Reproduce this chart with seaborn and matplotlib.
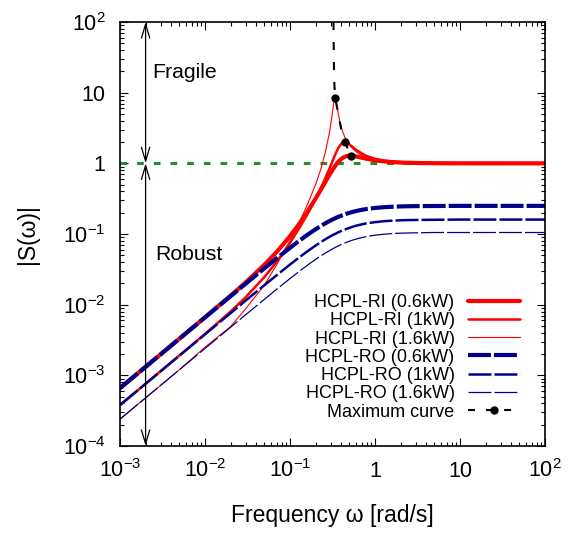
import numpy as np
import matplotlib
matplotlib.use("Agg")
import matplotlib.pyplot as plt
from matplotlib.lines import Line2D
from matplotlib.ticker import LogLocator, NullFormatter, FixedLocator, FixedFormatter
import seaborn as sns

# Frequency grid [rad/s] shared by all sensitivity curves
omega = [1e-3, 2e-3, 5e-3, 0.01, 0.02, 0.03, 0.05, 0.07, 0.1, 0.13, 0.16, 0.2,
         0.23, 0.26, 0.29, 0.31, 0.32, 0.325, 0.33, 0.335, 0.339, 0.345, 0.35,
         0.36, 0.37, 0.385, 0.4, 0.42, 0.444, 0.47, 0.5, 0.518, 0.55, 0.6, 0.7,
         0.8, 1.0, 1.3, 1.7, 2.2, 3.0, 5.0, 10.0, 100.0]

# |S(w)| for the HCPL-RI controllers
ri_06kw = [0.00066, 0.00132, 0.0033, 0.00663, 0.0134, 0.0206, 0.0367, 0.056, 0.0932,
           0.142, 0.206, 0.317, 0.421, 0.544, 0.682, 0.778, 0.826, 0.849, 0.873,
           0.896, 0.915, 0.942, 0.964, 1.01, 1.05, 1.1, 1.15, 1.2, 1.24, 1.27, 1.28,
           1.28, 1.273, 1.252, 1.202, 1.16, 1.105, 1.062, 1.036, 1.022, 1.012, 1.004,
           1.001, 1.0]
ri_1kw = [0.00038, 0.00076, 0.00191, 0.00385, 0.00799, 0.0127, 0.0246, 0.0408, 0.0751,
          0.124, 0.19, 0.315, 0.444, 0.614, 0.836, 1.01, 1.11, 1.16, 1.22, 1.27, 1.31,
          1.38, 1.43, 1.54, 1.64, 1.77, 1.88, 1.96, 1.98, 1.94, 1.85, 1.79, 1.69, 1.55,
          1.38, 1.27, 1.16, 1.09, 1.05, 1.03, 1.02, 1.01, 1.0, 1.0]
ri_16kw = [0.00024, 0.00048, 0.0012, 0.0025, 0.0049, 0.0087, 0.019, 0.037, 0.08,
           0.15, 0.26, 0.5, 0.82, 1.43, 2.64, 4.45, 5.97, 6.88, 7.74, 8.34, 8.48, 8.11,
           7.48, 6.1, 5.02, 3.95, 3.29, 2.73, 2.32, 2.04, 1.82, 1.72, 1.6, 1.46, 1.3,
           1.21, 1.13, 1.07, 1.04, 1.02, 1.01, 1.0, 1.0, 1.0]

# |S(w)| for the HCPL-RO controllers
ro_06kw = [0.00066, 0.00132, 0.0033, 0.0066, 0.01318, 0.01974, 0.0327, 0.0454, 0.0638,
           0.0812, 0.0973, 0.1167, 0.1298, 0.1415, 0.152, 0.1583, 0.1613, 0.1628,
           0.1642, 0.1656, 0.1667, 0.1684, 0.1697, 0.1722, 0.1747, 0.1782, 0.1815,
           0.1857, 0.1902, 0.1947, 0.1993, 0.2018, 0.2059, 0.2114, 0.2199, 0.226,
           0.2338, 0.24, 0.244, 0.2464, 0.248, 0.249, 0.25, 0.25]
ro_1kw = [0.00038, 0.00076, 0.0019, 0.0038, 0.00759, 0.0114, 0.0189, 0.0262, 0.037,
          0.0472, 0.0568, 0.0686, 0.0767, 0.0841, 0.0908, 0.0949, 0.0968, 0.0978,
          0.0987, 0.0996, 0.1, 0.101, 0.102, 0.104, 0.106, 0.108, 0.11, 0.113, 0.116,
          0.119, 0.122, 0.124, 0.127, 0.131, 0.137, 0.142, 0.147, 0.152, 0.155,
          0.157, 0.158, 0.159, 0.16, 0.16]
ro_16kw = [0.00024, 0.00048, 0.0012, 0.0024, 0.00479, 0.00718, 0.0119, 0.0166, 0.0234,
           0.0299, 0.0361, 0.0437, 0.0489, 0.0536, 0.058, 0.0607, 0.062, 0.0626,
           0.0632, 0.0638, 0.0643, 0.065, 0.0656, 0.0667, 0.0678, 0.0694, 0.0709,
           0.0727, 0.0748, 0.0769, 0.079, 0.0802, 0.0822, 0.0848, 0.089, 0.0921,
           0.0962, 0.0995, 0.102, 0.103, 0.104, 0.105, 0.105, 0.105]

# Locus of the sensitivity peaks; the marked points are the three RI maxima
max_omega = [0.325, 0.327, 0.331, 0.339, 0.37, 0.405, 0.444, 0.518]
max_gain = [100, 40, 15, 8.5, 5.1, 2.8, 1.99, 1.28]
peak_idx = [3, 6, 7]

labels = ["HCPL-RI (0.6kW)", "HCPL-RI (1kW)", "HCPL-RI (1.6kW)", "HCPL-RO (0.6kW)",
          "HCPL-RO (1kW)", "HCPL-RO (1.6kW)", "Maximum curve"]
xt = [1e-3, 1e-2, 1e-1, 1, 10, 100]
xl = ["$10^{-3}$", "$10^{-2}$", "$10^{-1}$", "1", "10", "$10^{2}$"]
yt = [1e-4, 1e-3, 1e-2, 1e-1, 1, 10, 100]
yl = ["$10^{-4}$", "$10^{-3}$", "$10^{-2}$", "$10^{-1}$", "1", "10", "$10^{2}$"]

sns.set_style("ticks")
plt.rcParams["font.family"] = ["Liberation Sans", "DejaVu Sans"]
plt.rcParams["mathtext.default"] = "regular"
plt.rcParams["lines.scale_dashes"] = False
plt.rcParams["text.color"] = "black"
plt.rcParams["axes.labelcolor"] = "black"

fig = plt.figure(figsize=(5.75, 5.34), dpi=100)
ax = fig.add_axes([0.2087, 0.1648, 0.7391, 0.7940])

red, blue = "#ff0000", "#00008b"
dash_ro = (0, (16.5, 2.2))

ax.axhline(1.0, color="#229022", lw=2.2, ls=(0, (4.8, 7.2)), zorder=1)

handles = []
for vals, col, lw, ls in [(ri_06kw, red, 3.0, "-"), (ri_1kw, red, 1.8, "-"),
                          (ri_16kw, red, 0.8, "-"), (ro_06kw, blue, 3.0, dash_ro),
                          (ro_1kw, blue, 1.8, dash_ro), (ro_16kw, blue, 0.9, dash_ro)]:
    sns.lineplot(x=omega, y=vals, ax=ax, color=col, lw=lw, ls=ls, estimator=None)
    handles.append(ax.lines[-1])

sns.lineplot(x=max_omega, y=max_gain, ax=ax, color="black", lw=1.5, estimator=None,
             ls=(0, (5.8, 8.6)), sort=False)
ax.plot([max_omega[i] for i in peak_idx], [max_gain[i] for i in peak_idx], "o",
        color="black", ms=5, zorder=5)
handles.append(Line2D([], [], color="black", lw=1.5, ls=(0, (5.0, 8.0)), marker="o", ms=5))

ax.set_xscale("log")
ax.set_yscale("log")
ax.set_xlim(1e-3, 1e2)
ax.set_ylim(1e-4, 1e2)

ax.xaxis.set_major_locator(FixedLocator(xt))
ax.xaxis.set_major_formatter(FixedFormatter(xl))
ax.yaxis.set_major_locator(FixedLocator(yt))
ax.yaxis.set_major_formatter(FixedFormatter(yl))
for axis in (ax.xaxis, ax.yaxis):
    axis.set_minor_locator(LogLocator(base=10, subs=np.arange(2, 10), numticks=20))
    axis.set_minor_formatter(NullFormatter())

ax.tick_params(which="both", direction="in", top=True, right=True, labelsize=15.5,
               width=0.8, color="black", labelcolor="black")
ax.tick_params(which="major", length=5.5)
ax.tick_params(which="minor", length=2.7)
ax.tick_params(axis="x", which="major", pad=22)
ax.tick_params(axis="y", which="major", pad=10.5)
for sp in ax.spines.values():
    sp.set_visible(True)
    sp.set_linewidth(1.2)
    sp.set_color("black")

ax.set_xlabel("Frequency ω [rad/s]", fontsize=16.5, labelpad=16, color="black")
ax.set_ylabel("|S(ω)|", fontsize=16.5, labelpad=17, color="black")

arrow = dict(arrowstyle="<->,head_length=1.0,head_width=0.3", lw=0.9, color="black",
             shrinkA=0, shrinkB=0)
ax.annotate("", xy=(0.002, 100), xytext=(0.002, 1), arrowprops=arrow)
ax.annotate("", xy=(0.002, 1), xytext=(0.002, 1e-4), arrowprops=arrow)
ax.text(0.00238, 19, "Fragile", fontsize=15.3, va="center", ha="left", color="black")
ax.text(0.00258, 0.0505, "Robust", fontsize=15.3, va="center", ha="left", color="black")

leg = ax.legend(handles, labels, loc="lower right", bbox_to_anchor=(0.941, 0.06),
                frameon=False, fontsize=13, markerfirst=False, handlelength=2.9,
                handletextpad=0.72, labelspacing=0.07, borderpad=0, borderaxespad=0)
for t in leg.get_texts():
    t.set_color("black")

for lbl in ax.get_xticklabels():
    lbl.set_verticalalignment("baseline")

fig.savefig("out.png", dpi=100)
